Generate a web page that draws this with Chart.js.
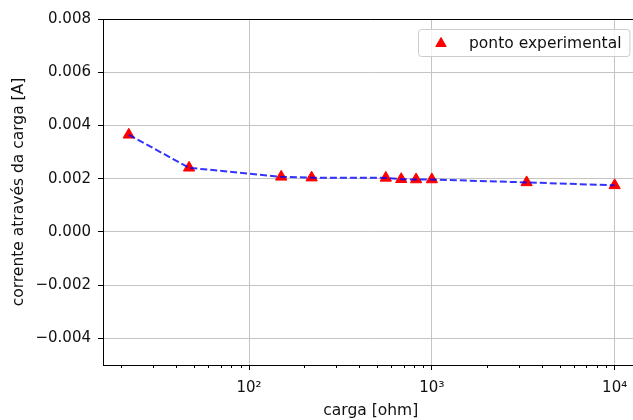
<!DOCTYPE html>
<html>
<head>
<meta charset="utf-8">
<script src="https://cdn.jsdelivr.net/npm/chart.js@4/dist/chart.umd.min.js"></script>
<style>
  html, body { margin: 0; padding: 0; background: #fff; overflow: hidden; }
  #quadro { width: 633px; height: 420px; overflow: hidden; }
  canvas { display: block; }
</style>
</head>
<body>
<div id="quadro"></div>
<script>
// carga (ohm) e corrente medida através dela (A)
const carga = [22, 47, 150, 220, 560, 680, 820, 1000, 3300, 10000];
const corrente = [0.00365, 0.00241, 0.00207, 0.00204, 0.00203, 0.00198, 0.00197, 0.00197, 0.00186, 0.00175];

const xTicks = [100, 1000, 10000];
const xTickLabels = ['10²', '10³', '10⁴'];
const yTicks = [-0.004, -0.002, 0, 0.002, 0.004, 0.006, 0.008];

const pontos = carga.map((c, i) => ({ x: c, y: corrente[i] }));

const fonte = { family: 'DejaVu Sans', size: 15 };
const fonteTitulo = { family: 'DejaVu Sans', size: 15.5 };
const corTexto = '#111';

// the right spine sits just past the visible edge
const BORDA_DIREITA = 638;

// minor ticks on the log axis + top/right spines
const moldura = {
  id: 'moldura',
  afterDraw(chart) {
    const { ctx, chartArea: a } = chart;
    const xs = chart.scales.x;
    ctx.save();
    ctx.strokeStyle = '#000';
    ctx.lineWidth = 1;
    ctx.beginPath();
    for (let d = 1; d <= 4; d++) {
      for (let k = 2; k <= 9; k++) {
        const v = k * Math.pow(10, d);
        if (v < xs.min || v > xs.max) continue;
        const px = Math.round(xs.getPixelForValue(v)) + 0.5;
        ctx.moveTo(px, a.bottom);
        ctx.lineTo(px, a.bottom + 3);
      }
    }
    ctx.moveTo(a.left, a.top + 0.5);
    ctx.lineTo(a.right, a.top + 0.5);
    ctx.moveTo(a.right - 0.5, a.top);
    ctx.lineTo(a.right - 0.5, a.bottom);
    ctx.stroke();
    ctx.restore();
  }
};

// legend box in the upper right corner, only for the markers
const legenda = {
  id: 'legenda',
  afterDraw(chart) {
    const { ctx, chartArea: a } = chart;
    const ds = chart.data.datasets[1];
    ctx.save();
    ctx.font = fonteTitulo.size + 'px "' + fonteTitulo.family + '"';
    const w = 51 + ctx.measureText(ds.label).width + 8;
    const h = 27;
    const x0 = Math.round(a.right - 9 - w);
    const y0 = Math.round(a.top + 10);
    ctx.beginPath();
    ctx.roundRect(x0 + 0.5, y0 + 0.5, w, h, 3);
    ctx.fillStyle = 'rgba(255,255,255,0.8)';
    ctx.fill();
    ctx.strokeStyle = '#cccccc';
    ctx.lineWidth = 1;
    ctx.stroke();
    ctx.fillStyle = ds.pointBackgroundColor;
    ctx.strokeStyle = ds.pointBorderColor;
    Chart.helpers.drawPoint(ctx, { pointStyle: 'triangle', radius: 6, borderWidth: 1, rotation: 0 }, x0 + 23, y0 + h / 2 + 1);
    ctx.fillStyle = corTexto;
    ctx.textBaseline = 'middle';
    ctx.textAlign = 'left';
    ctx.fillText(ds.label, x0 + 51, y0 + h / 2 + 1);
    ctx.restore();
  }
};

function configuracao() {
  return {
    type: 'line',
    data: {
      datasets: [
        {
          label: 'ajuste',
          data: pontos,
          borderColor: 'rgba(0,0,255,0.8)',
          borderWidth: 2,
          borderDash: [7, 3],
          pointRadius: 0,
          fill: false,
          tension: 0
        },
        {
          label: 'ponto experimental',
          data: pontos,
          showLine: false,
          pointStyle: 'triangle',
          pointRadius: 6.5,
          pointBackgroundColor: '#ff0000',
          pointBorderColor: '#ff0000',
          pointBorderWidth: 1
        }
      ]
    },
    options: {
      responsive: false,
      maintainAspectRatio: false,
      animation: false,
      devicePixelRatio: 1,
      layout: { padding: { top: 19, right: 0, left: 0, bottom: 0 } },
      plugins: { legend: { display: false }, tooltip: { enabled: false } },
      scales: {
        x: {
          type: 'logarithmic',
          min: 15.9,
          max: 13500,
          afterBuildTicks: s => { s.ticks = xTicks.map(v => ({ value: v, major: true })); },
          afterFit: s => {
            s.height = 55;
            s.paddingLeft = 0;
            s.paddingRight = 0;
          },
          ticks: {
            callback: (v, i) => xTickLabels[i],
            font: fonte,
            color: corTexto,
            padding: 9,
            autoSkip: false,
            maxRotation: 0
          },
          grid: { color: '#c4c4c4', tickColor: '#000', tickLength: 5 },
          border: { color: '#000', width: 1 },
          title: { display: true, text: 'carga [ohm]', font: fonteTitulo, color: corTexto, padding: 0 }
        },
        y: {
          min: -0.005,
          max: 0.008,
          afterBuildTicks: s => { s.ticks = yTicks.map(v => ({ value: v })); },
          afterFit: s => { s.width = 103; },
          ticks: {
            callback: v => v.toFixed(3).replace('-', '\u2212'),
            font: fonte,
            color: corTexto,
            padding: 7
          },
          grid: { color: '#c4c4c4', tickColor: '#000', tickLength: 5 },
          border: { color: '#000', width: 1 },
          title: {
            display: true,
            text: 'corrente através da carga [A]',
            font: fonteTitulo,
            color: corTexto,
            padding: { top: 10, bottom: 0 }
          }
        }
      }
    },
    plugins: [moldura, legenda]
  };
}

// canvas is wider than the frame so the plot runs off its right side
function desenhar(largura) {
  const quadro = document.getElementById('quadro');
  quadro.innerHTML = '';
  const cv = document.createElement('canvas');
  cv.width = largura;
  cv.height = 420;
  quadro.appendChild(cv);
  return new Chart(cv, configuracao());
}

let largura = 650;
let grafico = desenhar(largura);
const falta = BORDA_DIREITA - grafico.chartArea.right;
if (Math.abs(falta) >= 0.5) {
  grafico.destroy();
  grafico = desenhar(Math.round(largura + falta));
}
</script>
</body>
</html>
